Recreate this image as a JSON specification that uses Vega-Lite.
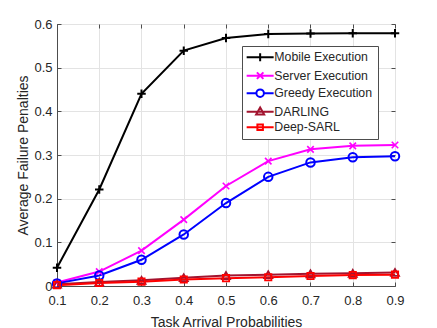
{
  "$schema": "https://vega.github.io/schema/vega-lite/v6.json",
  "width": 338,
  "height": 262,
  "autosize": "none",
  "padding": {"left": 57, "top": 24, "right": 42, "bottom": 42},
  "background": "white",
  "config": {
    "font": "Liberation Sans",
    "view": {"stroke": "#4d4d4d", "strokeWidth": 1},
    "axis": {
      "labelFont": "Liberation Sans",
      "titleFont": "Liberation Sans",
      "labelColor": "#262626",
      "titleColor": "#262626",
      "labelFontSize": 13,
      "titleFontSize": 14,
      "titleFontWeight": "normal",
      "domainColor": "#4d4d4d",
      "tickColor": "#4d4d4d",
      "gridColor": "#e3e3e3",
      "gridWidth": 1
    },
    "legend": {
      "labelFont": "Liberation Sans",
      "labelFontSize": 12.3,
      "labelColor": "#262626",
      "symbolOpacity": 1
    }
  },
  "data": {
    "values": [
      {"series": "Mobile Execution", "p": 0.1, "v": 0.042},
      {"series": "Mobile Execution", "p": 0.2, "v": 0.221},
      {"series": "Mobile Execution", "p": 0.3, "v": 0.44},
      {"series": "Mobile Execution", "p": 0.4, "v": 0.539},
      {"series": "Mobile Execution", "p": 0.5, "v": 0.568},
      {"series": "Mobile Execution", "p": 0.6, "v": 0.577},
      {"series": "Mobile Execution", "p": 0.7, "v": 0.578},
      {"series": "Mobile Execution", "p": 0.8, "v": 0.579},
      {"series": "Mobile Execution", "p": 0.9, "v": 0.579},
      {"series": "Server Execution", "p": 0.1, "v": 0.008},
      {"series": "Server Execution", "p": 0.2, "v": 0.033},
      {"series": "Server Execution", "p": 0.3, "v": 0.081},
      {"series": "Server Execution", "p": 0.4, "v": 0.152},
      {"series": "Server Execution", "p": 0.5, "v": 0.229},
      {"series": "Server Execution", "p": 0.6, "v": 0.286},
      {"series": "Server Execution", "p": 0.7, "v": 0.313},
      {"series": "Server Execution", "p": 0.8, "v": 0.321},
      {"series": "Server Execution", "p": 0.9, "v": 0.323},
      {"series": "Greedy Execution", "p": 0.1, "v": 0.006},
      {"series": "Greedy Execution", "p": 0.2, "v": 0.024},
      {"series": "Greedy Execution", "p": 0.3, "v": 0.06},
      {"series": "Greedy Execution", "p": 0.4, "v": 0.118},
      {"series": "Greedy Execution", "p": 0.5, "v": 0.19},
      {"series": "Greedy Execution", "p": 0.6, "v": 0.25},
      {"series": "Greedy Execution", "p": 0.7, "v": 0.283},
      {"series": "Greedy Execution", "p": 0.8, "v": 0.295},
      {"series": "Greedy Execution", "p": 0.9, "v": 0.297},
      {"series": "DARLING", "p": 0.1, "v": 0.004},
      {"series": "DARLING", "p": 0.2, "v": 0.009},
      {"series": "DARLING", "p": 0.3, "v": 0.013},
      {"series": "DARLING", "p": 0.4, "v": 0.019},
      {"series": "DARLING", "p": 0.5, "v": 0.024},
      {"series": "DARLING", "p": 0.6, "v": 0.026},
      {"series": "DARLING", "p": 0.7, "v": 0.028},
      {"series": "DARLING", "p": 0.8, "v": 0.029},
      {"series": "DARLING", "p": 0.9, "v": 0.031},
      {"series": "Deep-SARL", "p": 0.1, "v": 0.002},
      {"series": "Deep-SARL", "p": 0.2, "v": 0.007},
      {"series": "Deep-SARL", "p": 0.3, "v": 0.01},
      {"series": "Deep-SARL", "p": 0.4, "v": 0.015},
      {"series": "Deep-SARL", "p": 0.5, "v": 0.018},
      {"series": "Deep-SARL", "p": 0.6, "v": 0.02},
      {"series": "Deep-SARL", "p": 0.7, "v": 0.023},
      {"series": "Deep-SARL", "p": 0.8, "v": 0.025},
      {"series": "Deep-SARL", "p": 0.9, "v": 0.026}
    ]
  },
  "resolve": {"axis": {"x": "independent", "y": "independent"}},
  "layer": [
    {
      "mark": {"type": "line", "strokeWidth": 2},
      "encoding": {
        "x": {
          "field": "p", "type": "quantitative",
          "scale": {"domain": [0.1, 0.9], "nice": false, "zero": false},
          "axis": {
            "title": "Task Arrival Probabilities",
            "values": [0.1, 0.2, 0.3, 0.4, 0.5, 0.6, 0.7, 0.8, 0.9],
            "format": "~g",
            "tickSize": -4,
            "labelPadding": 12,
            "titlePadding": 8,
            "labelFlush": false
          }
        },
        "y": {
          "field": "v", "type": "quantitative",
          "scale": {"domain": [0, 0.6], "nice": false},
          "axis": {
            "title": "Average Failure Penalties",
            "values": [0, 0.1, 0.2, 0.3, 0.4, 0.5, 0.6],
            "format": "~g",
            "tickSize": -4,
            "labelPadding": 9,
            "titlePadding": 3,
            "labelFlush": false
          }
        },
        "color": {
          "field": "series", "type": "nominal",
          "scale": {
            "domain": ["Mobile Execution", "Server Execution", "Greedy Execution", "DARLING", "Deep-SARL"],
            "range": ["#000000", "#ff00ff", "#0000ff", "#a2142f", "#ff0000"]
          },
          "legend": {
            "title": null,
            "orient": "none",
            "legendX": 185,
            "legendY": 22,
            "fillColor": "white",
            "strokeColor": "#4d4d4d",
            "padding": 5,
            "rowPadding": 1.5,
            "labelOffset": 8,
            "symbolOffset": 7,
            "symbolSize": 100,
            "symbolStrokeWidth": 2,
            "symbolOpacity": 1
          }
        }
      }
    },
    {
      "transform": [{"filter": "datum.series === 'Mobile Execution'"}],
      "mark": {"type": "point", "shape": "M-1,0L1,0M0,-1L0,1", "size": 72, "strokeWidth": 2, "filled": false, "opacity": 1},
      "encoding": {
        "x": {"field": "p", "type": "quantitative", "axis": null},
        "y": {"field": "v", "type": "quantitative", "axis": null},
        "color": {"field": "series", "type": "nominal"}
      }
    },
    {
      "transform": [{"filter": "datum.series === 'Server Execution'"}],
      "mark": {"type": "point", "shape": "M-1,-1L1,1M-1,1L1,-1", "size": 42, "strokeWidth": 1.6, "filled": false, "opacity": 1},
      "encoding": {
        "x": {"field": "p", "type": "quantitative", "axis": null},
        "y": {"field": "v", "type": "quantitative", "axis": null},
        "color": {"field": "series", "type": "nominal"}
      }
    },
    {
      "transform": [{"filter": "datum.series === 'Greedy Execution'"}],
      "mark": {"type": "point", "shape": "circle", "size": 72, "strokeWidth": 2, "filled": false, "opacity": 1},
      "encoding": {
        "x": {"field": "p", "type": "quantitative", "axis": null},
        "y": {"field": "v", "type": "quantitative", "axis": null},
        "color": {"field": "series", "type": "nominal"}
      }
    },
    {
      "transform": [{"filter": "datum.series === 'DARLING'"}],
      "mark": {"type": "point", "shape": "triangle-up", "size": 64, "strokeWidth": 1.8, "filled": false, "opacity": 1},
      "encoding": {
        "x": {"field": "p", "type": "quantitative", "axis": null},
        "y": {"field": "v", "type": "quantitative", "axis": null},
        "color": {"field": "series", "type": "nominal"}
      }
    },
    {
      "transform": [{"filter": "datum.series === 'Deep-SARL'"}],
      "mark": {"type": "point", "shape": "square", "size": 40, "strokeWidth": 1.8, "filled": false, "opacity": 1},
      "encoding": {
        "x": {"field": "p", "type": "quantitative", "axis": null},
        "y": {"field": "v", "type": "quantitative", "axis": null},
        "color": {"field": "series", "type": "nominal"}
      }
    },
    {
      "mark": {"type": "point", "filled": false, "opacity": 0},
      "encoding": {
        "x": {
          "field": "p", "type": "quantitative",
          "axis": {"orient": "top", "labels": false, "title": null, "grid": false, "domain": false, "tickSize": -4, "values": [0.1, 0.2, 0.3, 0.4, 0.5, 0.6, 0.7, 0.8, 0.9]}
        },
        "y": {
          "field": "v", "type": "quantitative",
          "axis": {"orient": "right", "labels": false, "title": null, "grid": false, "domain": false, "tickSize": -4, "values": [0, 0.1, 0.2, 0.3, 0.4, 0.5, 0.6]}
        },
        "color": {"field": "series", "type": "nominal"},
        "shape": {
          "field": "series", "type": "nominal",
          "scale": {
            "domain": ["Mobile Execution", "Server Execution", "Greedy Execution", "DARLING", "Deep-SARL"],
            "range": [
              "M-2.7,0L2.7,0M0,-0.8L0,0.8",
              "M-2.7,0L2.7,0M-0.65,-0.65L0.65,0.65M-0.65,0.65L0.65,-0.65",
              "M-2.7,0L-0.75,0M0.75,0L2.7,0M0.75,0A0.75,0.75,0,1,1,-0.75,0A0.75,0.75,0,1,1,0.75,0",
              "M-2.7,0L2.7,0M0,-0.85L0.8,0.55L-0.8,0.55Z",
              "M-2.7,0L2.7,0M-0.55,-0.55L0.55,-0.55L0.55,0.55L-0.55,0.55Z"
            ]
          },
          "legend": {"title": null, "symbolOpacity": 1}
        }
      }
    }
  ]
}
